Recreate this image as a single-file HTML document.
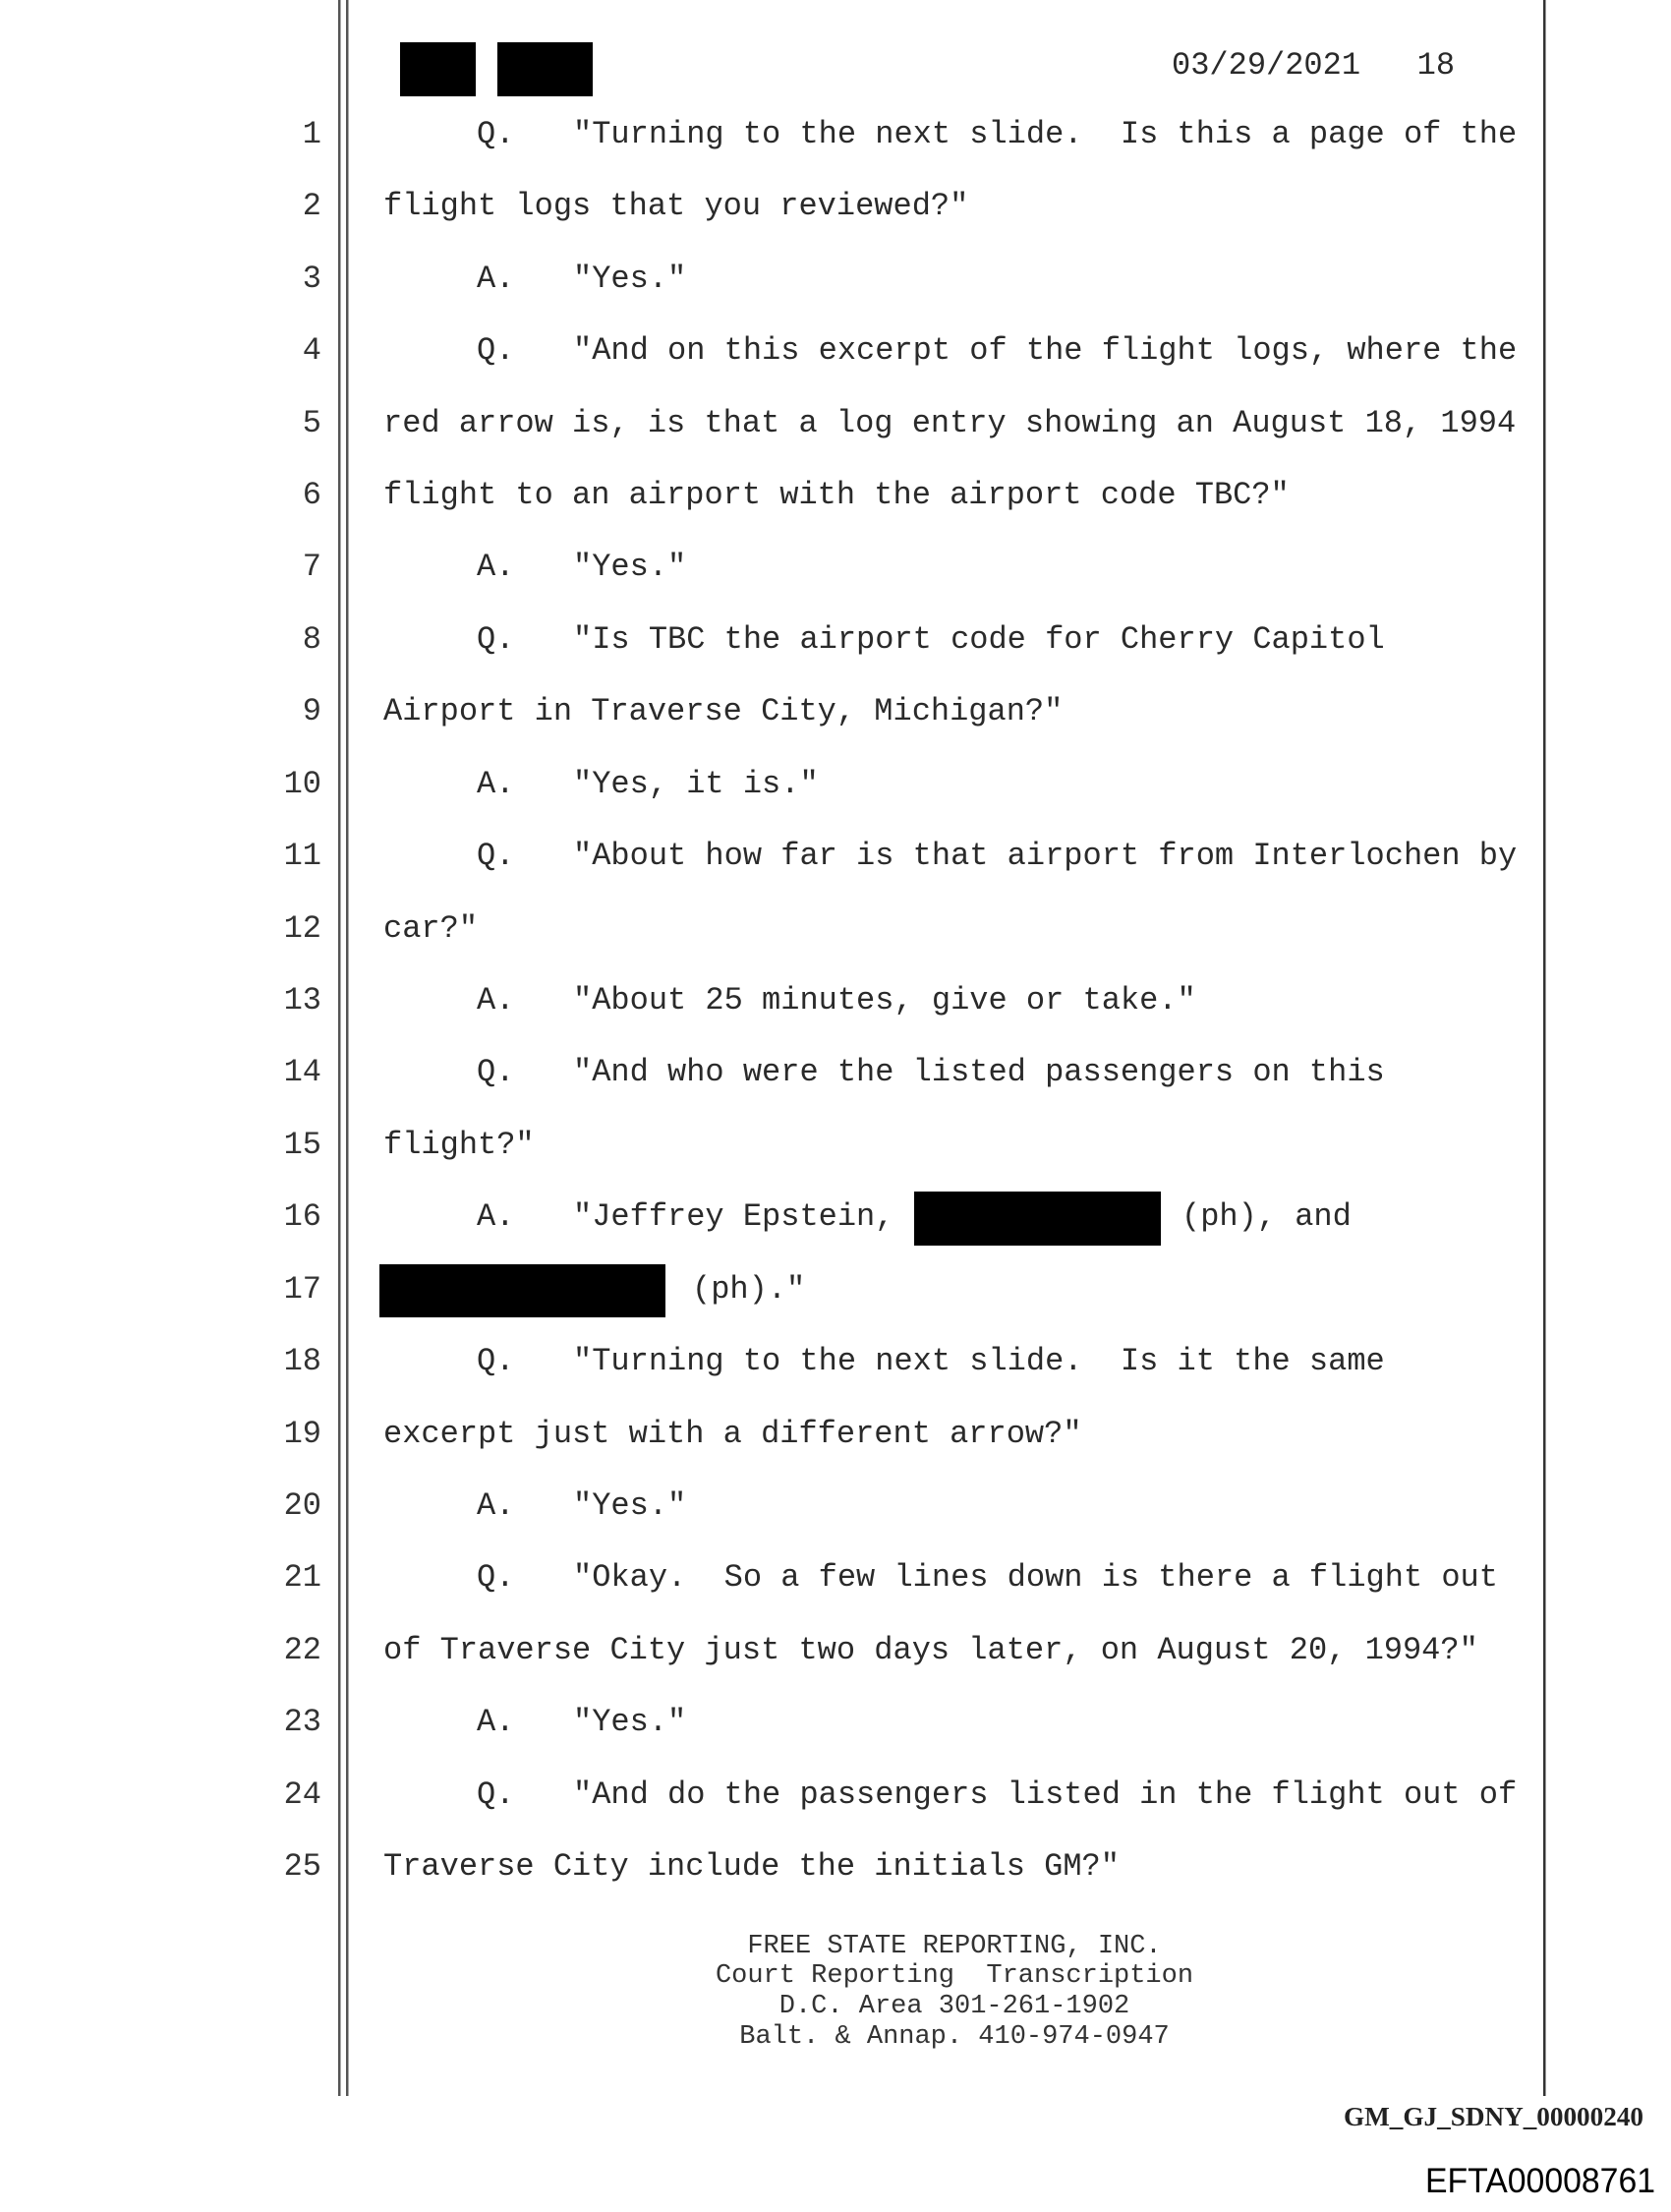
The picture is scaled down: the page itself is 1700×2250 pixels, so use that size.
<!DOCTYPE html>
<html><head><meta charset="utf-8"><style>
html,body{margin:0;padding:0;background:#fff;}
svg{display:block;}
.m{font-family:"Liberation Mono",monospace;font-size:32px;fill:#2a2a2a;white-space:pre;}
.n{font-family:"Liberation Mono",monospace;font-size:32px;fill:#333;}
.f{font-family:"Liberation Mono",monospace;font-size:27px;fill:#333;white-space:pre;}
</style></head><body>
<svg width="1700" height="2250" viewBox="0 0 1700 2250" xmlns="http://www.w3.org/2000/svg">
<rect width="1700" height="2250" fill="#fff"/>
<rect x="344" y="0" width="2.5" height="2132" fill="#555"/>
<rect x="352" y="0" width="2.5" height="2132" fill="#555"/>
<rect x="1570" y="0" width="2.5" height="2132" fill="#333"/>
<rect x="407" y="43" width="77" height="55" fill="#000"/>
<rect x="506" y="43" width="97" height="55" fill="#000"/>
<text class="m" x="1192" y="75">03/29/2021&#160;&#160;&#160;18</text>
<g class="n" text-anchor="end">
<text x="327" y="145">1</text><text x="327" y="218">2</text><text x="327" y="292">3</text><text x="327" y="365">4</text><text x="327" y="439">5</text>
<text x="327" y="512">6</text><text x="327" y="585">7</text><text x="327" y="659">8</text><text x="327" y="732">9</text><text x="327" y="806">10</text>
<text x="327" y="879">11</text><text x="327" y="953">12</text><text x="327" y="1026">13</text><text x="327" y="1099">14</text><text x="327" y="1173">15</text>
<text x="327" y="1246">16</text><text x="327" y="1320">17</text><text x="327" y="1393">18</text><text x="327" y="1467">19</text><text x="327" y="1540">20</text>
<text x="327" y="1613">21</text><text x="327" y="1687">22</text><text x="327" y="1760">23</text><text x="327" y="1834">24</text><text x="327" y="1907">25</text>
</g>
<g class="m">
<text x="485" y="145">Q.</text><text x="583" y="145">"Turning to the next slide. &#160;Is this a page of the</text>
<text x="390" y="218">flight logs that you reviewed?"</text>
<text x="485" y="292">A.</text><text x="583" y="292">"Yes."</text>
<text x="485" y="365">Q.</text><text x="583" y="365">"And on this excerpt of the flight logs, where the</text>
<text x="390" y="439">red arrow is, is that a log entry showing an August 18, 1994</text>
<text x="390" y="512">flight to an airport with the airport code TBC?"</text>
<text x="485" y="585">A.</text><text x="583" y="585">"Yes."</text>
<text x="485" y="659">Q.</text><text x="583" y="659">"Is TBC the airport code for Cherry Capitol</text>
<text x="390" y="732">Airport in Traverse City, Michigan?"</text>
<text x="485" y="806">A.</text><text x="583" y="806">"Yes, it is."</text>
<text x="485" y="879">Q.</text><text x="583" y="879">"About how far is that airport from Interlochen by</text>
<text x="390" y="953">car?"</text>
<text x="485" y="1026">A.</text><text x="583" y="1026">"About 25 minutes, give or take."</text>
<text x="485" y="1099">Q.</text><text x="583" y="1099">"And who were the listed passengers on this</text>
<text x="390" y="1173">flight?"</text>
<text x="485" y="1246">A.</text><text x="583" y="1246">"Jeffrey Epstein,</text><text x="1202" y="1246">(ph), and</text>
<text x="704" y="1320">(ph)."</text>
<text x="485" y="1393">Q.</text><text x="583" y="1393">"Turning to the next slide. &#160;Is it the same</text>
<text x="390" y="1467">excerpt just with a different arrow?"</text>
<text x="485" y="1540">A.</text><text x="583" y="1540">"Yes."</text>
<text x="485" y="1613">Q.</text><text x="583" y="1613">"Okay. &#160;So a few lines down is there a flight out</text>
<text x="390" y="1687">of Traverse City just two days later, on August 20, 1994?"</text>
<text x="485" y="1760">A.</text><text x="583" y="1760">"Yes."</text>
<text x="485" y="1834">Q.</text><text x="583" y="1834">"And do the passengers listed in the flight out of</text>
<text x="390" y="1907">Traverse City include the initials GM?"</text>
</g>
<rect x="930" y="1212" width="251" height="55" fill="#000"/>
<rect x="386" y="1286" width="291" height="54" fill="#000"/>
<g class="f" text-anchor="middle">
<text x="971" y="1986">FREE STATE REPORTING, INC.</text>
<text x="971" y="2016">Court Reporting &#160;Transcription</text>
<text x="971" y="2047">D.C. Area 301-261-1902</text>
<text x="971" y="2078">Balt. &amp; Annap. 410-974-0947</text>
</g>
<text x="1367" y="2162" font-family="Liberation Serif,serif" font-weight="bold" font-size="27" fill="#222" textLength="305" lengthAdjust="spacingAndGlyphs">GM_GJ_SDNY_00000240</text>
<text x="1450" y="2230" font-family="Liberation Sans,Arial,sans-serif" font-size="35" fill="#000" textLength="234" lengthAdjust="spacingAndGlyphs">EFTA00008761</text>
</svg>
</body></html>
